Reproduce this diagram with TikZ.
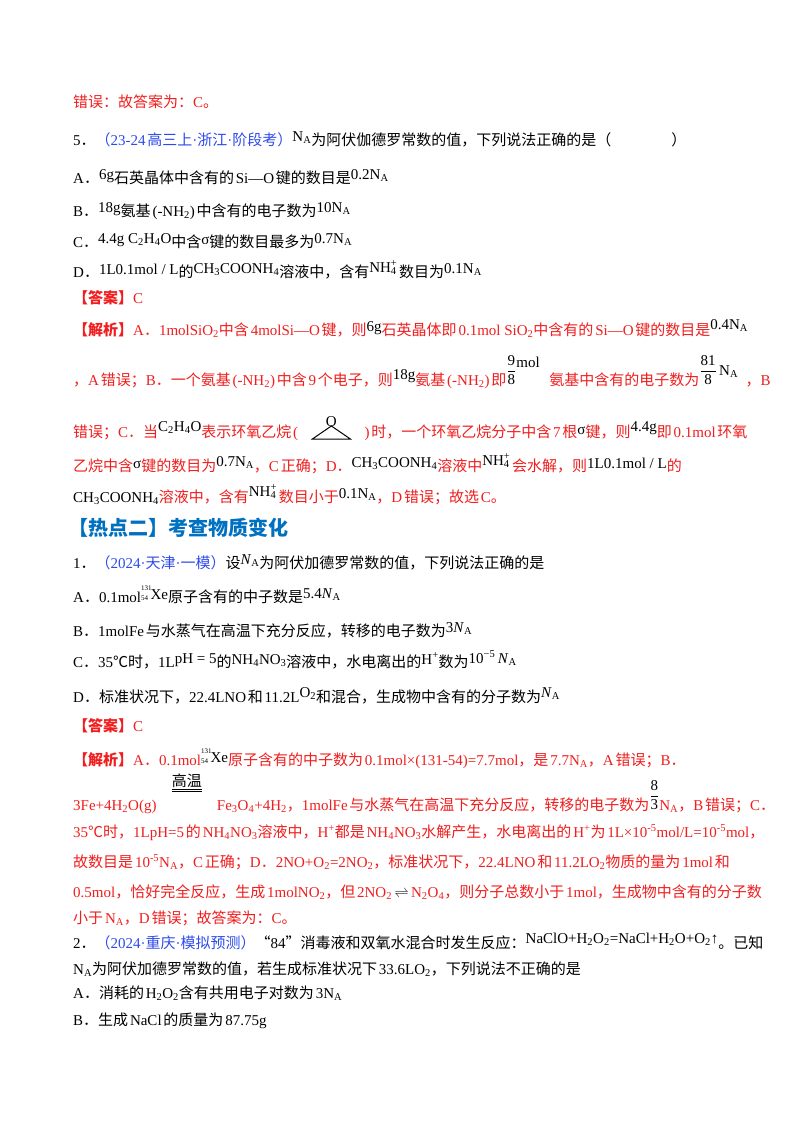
\documentclass[tikz,border=0pt]{standalone}
\usepackage{fontspec}
\setmainfont{Liberation Serif}
\newfontfamily\cjk{Noto Sans CJK SC}
\XeTeXinterchartokenstate=1
\newXeTeXintercharclass\CJKcls
\newXeTeXintercharclass\CJKpunct
\newXeTeXintercharclass\MidCls
\newcount\myc
\myc="3000 \loop\ifnum\myc<"3040 \XeTeXcharclass\myc=\CJKpunct \advance\myc1 \repeat
\myc="4E00 \loop\ifnum\myc<"A000 \XeTeXcharclass\myc=\CJKcls \advance\myc1 \repeat
\myc="FF00 \loop\ifnum\myc<"FFF0 \XeTeXcharclass\myc=\CJKpunct \advance\myc1 \repeat
\XeTeXcharclass"2103=\CJKpunct
\XeTeXcharclass"00B7=\MidCls
\XeTeXcharclass"201C=\CJKpunct
\XeTeXcharclass"201D=\CJKpunct
\XeTeXinterchartoks 0 \CJKcls = {\hskip0.12em\begingroup\cjk}
\XeTeXinterchartoks 4095 \CJKcls = {\begingroup\cjk}
\XeTeXinterchartoks \MidCls \CJKcls = {\begingroup\cjk}
\XeTeXinterchartoks \CJKcls 0 = {\endgroup\hskip0.12em}
\XeTeXinterchartoks \CJKcls 4095 = {\endgroup}
\XeTeXinterchartoks \CJKcls \MidCls = {\endgroup}
\XeTeXinterchartoks 0 \CJKpunct = {\begingroup\cjk}
\XeTeXinterchartoks 4095 \CJKpunct = {\begingroup\cjk}
\XeTeXinterchartoks \MidCls \CJKpunct = {\begingroup\cjk}
\XeTeXinterchartoks \CJKpunct 0 = {\endgroup}
\XeTeXinterchartoks \CJKpunct 4095 = {\endgroup}
\XeTeXinterchartoks \CJKpunct \MidCls = {\endgroup}
\definecolor{ansred}{RGB}{240,30,30}
\definecolor{srcblue}{RGB}{45,75,235}
\definecolor{headblue}{RGB}{0,112,192}
\newcommand\mysb[1]{\textsubscript{#1}}
\newcommand\bk[1]{\textcolor{black}{#1}}
\newcommand\src[1]{\textcolor{srcblue}{#1}}
\newcommand\nhf{NH\rlap{\textsuperscript{+}}\textsubscript{4}}
\newcommand\xeiso{\rlap{\raisebox{9pt}{\fontsize{7}{7}\selectfont 131}}\raisebox{-1pt}{\fontsize{7}{7}\selectfont 54}\,Xe}
\newcommand\myfrac[2]{\raisebox{10pt}{$\displaystyle\frac{\mbox{#1}}{\mbox{#2}}$}}
\tikzset{ln/.style={anchor=base west,inner sep=0pt,font=\fontsize{15}{18}\selectfont},
  rd/.style={ln,text=ansred}}
\begin{document}
\begin{tikzpicture}[x=1pt,y=-1pt]
\useasboundingbox[fill=white] (0,0) rectangle (800,1132);
\node[rd] (l1) at (73,107) {错误：故答案为：C。};
\node[ln] (l2) at (73,145) {5．\src{（23-24高三上·浙江·阶段考）}\raisebox{4pt}{N\mysb{A}}为阿伏伽德罗常数的值，下列说法正确的是（\hspace{4em}）};
\node[ln] (l3) at (73,183) {A．\raisebox{4pt}{6g}石英晶体中含有的Si—O键的数目是\raisebox{4pt}{0.2N\mysb{A}}};
\node[ln] (l4) at (73,216) {B．\raisebox{4pt}{18g}氨基(-NH\mysb{2})中含有的电子数为\raisebox{4pt}{10N\mysb{A}}};
\node[ln] (l5) at (73,247) {C．\raisebox{4pt}{4.4g C\mysb{2}H\mysb{4}O}中含\raisebox{3pt}{σ}键的数目最多为\raisebox{4pt}{0.7N\mysb{A}}};
\node[ln] (l6) at (73,277) {D．\raisebox{3pt}{1L0.1mol / L}的\raisebox{4pt}{CH\mysb{3}COONH\mysb{4}}溶液中，含有\raisebox{5pt}{\nhf}\,数目为\raisebox{4pt}{0.1N\mysb{A}}};
\node[rd] (l7) at (73,303) {\textbf{【答案】}C};
\node[rd] (l8) at (73,335) {\textbf{【解析】}A．1molSiO\mysb{2}中含4molSi—O键，则\raisebox{4pt}{\bk{6g}}石英晶体即0.1mol SiO\mysb{2}中含有的Si—O键的数目是\raisebox{6pt}{\bk{0.4N\mysb{A}}}};
\node[rd] (l9) at (73,385) {，A错误；B．一个氨基(-NH\mysb{2})中含9个电子，则\raisebox{6pt}{\bk{18g}}氨基(-NH\mysb{2})即\bk{\myfrac{9}{8}\rlap{\raisebox{18pt}{mol}}}\hspace{2.2em}氨基中含有的电子数为\bk{\myfrac{81}{8}\raisebox{10pt}{\,N\mysb{A}}}\hspace{0.5em}，B};
\node[rd] (l10a) at (73,437) {错误；C．当\raisebox{6pt}{\bk{C\mysb{2}H\mysb{4}O}}表示环氧乙烷(};
\draw[line width=1pt] ([xshift=14pt,yshift=-2pt]l10a.base east) coordinate (ta) -- ++(38,0) coordinate (tb) -- ++(-19,-13) coordinate (tc) -- cycle;
\node[ln,anchor=south] (ox) at ([yshift=-1pt]tc) {O};
\node[rd] (l10b) at ([xshift=66pt]l10a.base east) {)时，一个环氧乙烷分子中含7根\raisebox{3pt}{\bk{σ}}键，则\raisebox{6pt}{\bk{4.4g}}即0.1mol环氧};
\node[rd] (l11) at (73,471) {乙烷中含\raisebox{3pt}{\bk{σ}}键的数目为\raisebox{5pt}{\bk{0.7N\mysb{A}}}，C正确；D．\raisebox{4pt}{\bk{CH\mysb{3}COONH\mysb{4}}}溶液中\raisebox{6pt}{\bk{\nhf}}\,会水解，则\raisebox{3pt}{\bk{1L0.1mol / L}}的};
\node[rd] (l12) at (73,502) {\bk{CH\mysb{3}COONH\mysb{4}}溶液中，含有\raisebox{6pt}{\bk{\nhf}}\,数目小于\raisebox{4pt}{\bk{0.1N\mysb{A}}}，D错误；故选C。};
\node[ln,text=headblue,font=\fontsize{20}{24}\selectfont\bfseries] (h) at (68,535) {【热点二】考查物质变化};
\node[ln] (m1) at (73,568) {1．\src{（2024·天津·一模）}设\raisebox{4pt}{\textit{N}\mysb{A}}为阿伏加德罗常数的值，下列说法正确的是};
\node[ln] (m2) at (73,602) {A．0.1mol\raisebox{3pt}{\xeiso}原子含有的中子数是\raisebox{4pt}{5.4\textit{N}\mysb{A}}};
\node[ln] (m3) at (73,636) {B．1molFe与水蒸气在高温下充分反应，转移的电子数为\raisebox{4pt}{3\textit{N}\mysb{A}}};
\node[ln] (m4) at (73,667) {C．35℃时，1L\raisebox{4pt}{pH = 5}的\raisebox{3pt}{NH\mysb{4}NO\mysb{3}}溶液中，水电离出的\raisebox{3pt}{H\textsuperscript{+}}数为\raisebox{4pt}{10\textsuperscript{−5}\,\textit{N}\mysb{A}}};
\node[ln] (m5) at (73,702) {D．标准状况下，22.4LNO和11.2L\raisebox{5pt}{O\mysb{2}}和混合，生成物中含有的分子数为\raisebox{5pt}{\textit{N}\mysb{A}}};
\node[rd] (m6) at (73,731) {\textbf{【答案】}C};
\node[rd] (m7) at (73,765) {\textbf{【解析】}A．0.1mol\raisebox{3pt}{\bk{\xeiso}}原子含有的中子数为0.1mol×(131-54)=7.7mol，是7.7N\mysb{A}，A错误；B．};
\node[rd] (m8a) at (73,810) {3Fe+4H\mysb{2}O(g)};
\node[ln,anchor=base] (gw) at ([xshift=30pt,yshift=24pt]m8a.base east) {高温};
\draw[line width=0.6pt] ([yshift=-2pt]gw.south west) -- ([yshift=-2pt]gw.south east) ([yshift=-4pt]gw.south west) -- ([yshift=-4pt]gw.south east);
\node[rd] (m8b) at ([xshift=60pt]m8a.base east) {Fe\mysb{3}O\mysb{4}+4H\mysb{2}，1molFe与水蒸气在高温下充分反应，转移的电子数为\bk{\myfrac{8}{3}}N\mysb{A}，B错误；C．};
\node[rd] (m9) at (73,837) {35℃时，1LpH=5的NH\mysb{4}NO\mysb{3}溶液中，H\textsuperscript{+}都是NH\mysb{4}NO\mysb{3}水解产生，水电离出的H\textsuperscript{+}为1L×10\textsuperscript{-5}mol/L=10\textsuperscript{-5}mol，};
\node[rd] (m10) at (73,867) {故数目是10\textsuperscript{-5}N\mysb{A}，C正确；D．2NO+O\mysb{2}=2NO\mysb{2}，标准状况下，22.4LNO和11.2LO\mysb{2}物质的量为1mol和};
\node[rd] (m11) at (73,897) {0.5mol，恰好完全反应，生成1molNO\mysb{2}，但2NO\mysb{2}\,\bk{$\rightleftharpoons$}\,N\mysb{2}O\mysb{4}，则分子总数小于1mol，生成物中含有的分子数};
\node[rd] (m12) at (73,923) {小于N\mysb{A}，D错误；故答案为：C。};
\node[ln] (n1) at (73,948) {2．\src{（2024·重庆·模拟预测）}“84”消毒液和双氧水混合时发生反应：\raisebox{5pt}{NaClO+H\mysb{2}O\mysb{2}=NaCl+H\mysb{2}O+O\mysb{2}↑}。已知};
\node[ln] (n2) at (73,974) {N\mysb{A}为阿伏加德罗常数的值，若生成标准状况下33.6LO\mysb{2}，下列说法不正确的是};
\node[ln] (n3) at (73,998) {A．消耗的H\mysb{2}O\mysb{2}含有共用电子对数为3N\mysb{A}};
\node[ln] (n4) at (73,1025) {B．生成NaCl的质量为87.75g};
\end{tikzpicture}
\end{document}
